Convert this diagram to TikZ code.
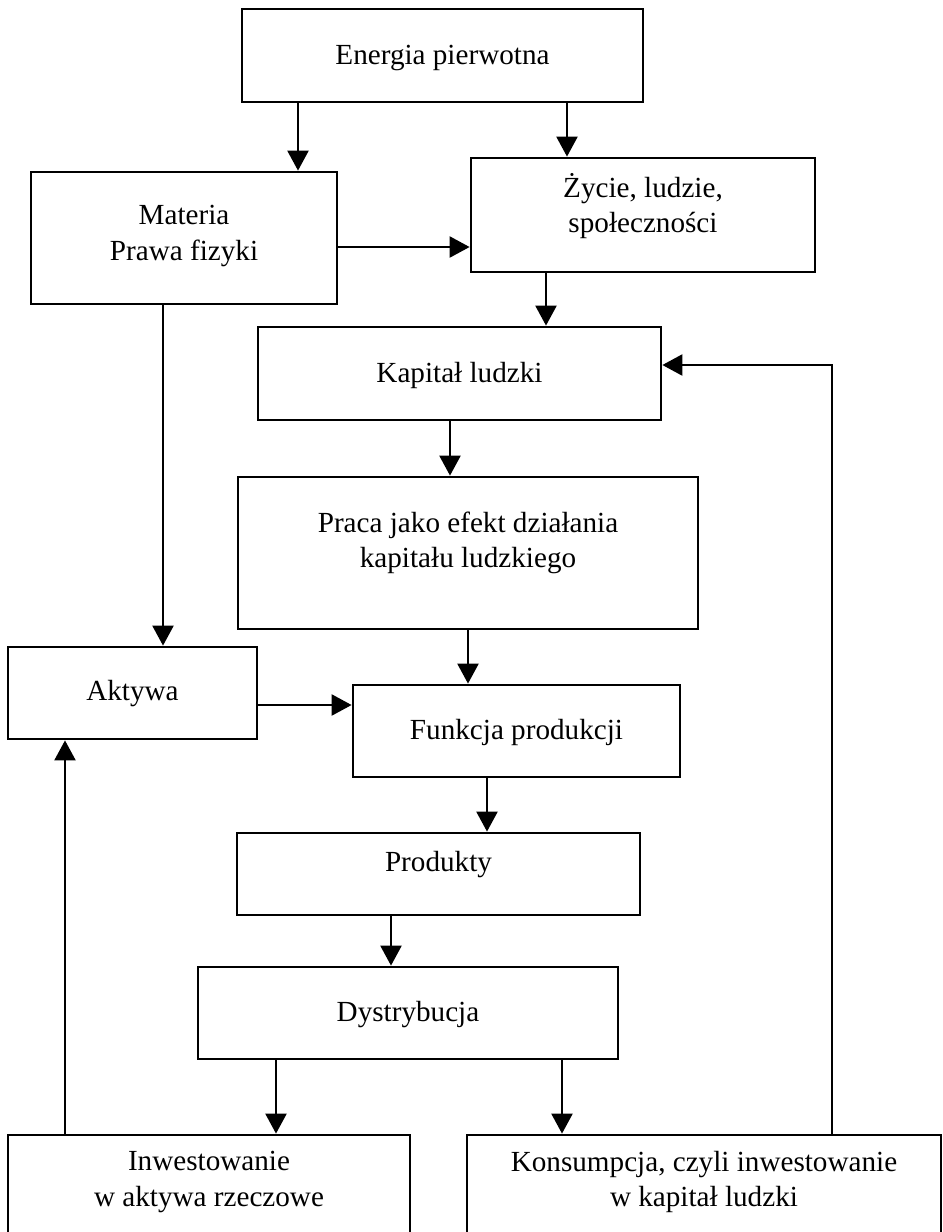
\documentclass[tikz,border=0pt]{standalone}
\usepackage{fontspec}
\setmainfont{Liberation Serif}
\usetikzlibrary{arrows.meta}

\tikzset{
    box/.style={draw, line width=1.6pt, inner sep=0pt},
    txt/.style={align=center, inner sep=0pt, font=\fontsize{16.6}{20}\selectfont},
    arr/.style={line width=1.3pt, -{Triangle[length=0.4cm,width=0.42cm]}},
}

\begin{document}
\begin{tikzpicture}[x=0.02cm, y=-0.02cm]
        \clip (0,0) rectangle (943,1232);
        % boxes
        \node[box, minimum width=8.02cm, minimum height=1.86cm] (energia) at (442.5,55.5) {};
        \node[box, minimum width=6.12cm, minimum height=2.64cm] (materia) at (184,238) {};
        \node[box, minimum width=6.88cm, minimum height=2.28cm] (zycie) at (643,215) {};
        \node[box, minimum width=8.06cm, minimum height=1.86cm] (kapital) at (459.5,373.5) {};
        \node[box, minimum width=9.2cm, minimum height=3.04cm] (praca) at (468,553) {};
        \node[box, minimum width=4.98cm, minimum height=1.84cm] (aktywa) at (132.5,693) {};
        \node[box, minimum width=6.54cm, minimum height=1.84cm] (funkcja) at (516.5,731) {};
        \node[box, minimum width=8.06cm, minimum height=1.64cm] (produkty) at (438.5,874) {};
        \node[box, minimum width=8.4cm, minimum height=1.84cm] (dystrybucja) at (408,1013) {};
        \node[box, minimum width=8.04cm, minimum height=2.1cm] (inwest) at (209,1187.5) {};
        \node[box, minimum width=9.48cm, minimum height=2.1cm] (konsum) at (704,1187.5) {};
        % texts
        \node[txt] (energia-t) at (442.5,58) {Energia pierwotna};
        \node[txt] (materia-t) at (184,236) {Materia\\Prawa fizyki};
        \node[txt] (zycie-t) at (643,206) {Życie, ludzie,\\społeczności};
        \node[txt] (kapital-t) at (459.5,375) {Kapitał ludzki};
        \node[txt] (praca-t) at (468,543) {Praca jako efekt działania\\kapitału ludzkiego};
        \node[txt] (aktywa-t) at (132.5,694) {Aktywa};
        \node[txt] (funkcja-t) at (516.5,732) {Funkcja produkcji};
        \node[txt] (produkty-t) at (438.5,865) {Produkty};
        \node[txt] (dystrybucja-t) at (408,1015) {Dystrybucja};
        \node[txt] (inwest-t) at (209,1182) {Inwestowanie\\w aktywa rzeczowe};
        \node[txt] (konsum-t) at (704,1182) {Konsumpcja, czyli inwestowanie\\w kapitał ludzki};
        % arrows
        \draw[arr] (298,0 |- energia.south) -- (298,0 |- materia.north);
        \draw[arr] (567,0 |- energia.south) -- (567,0 |- zycie.north);
        \draw[arr] (materia.east |- 0,247) -- (zycie.west |- 0,247);
        \draw[arr] (546,0 |- zycie.south) -- (546,0 |- kapital.north);
        \draw[arr] (163,0 |- materia.south) -- (163,0 |- aktywa.north);
        \draw[arr] (450,0 |- kapital.south) -- (450,0 |- praca.north);
        \draw[arr] (468,0 |- praca.south) -- (468,0 |- funkcja.north);
        \draw[arr] (aktywa.east |- 0,705) -- (funkcja.west |- 0,705);
        \draw[arr] (487,0 |- funkcja.south) -- (487,0 |- produkty.north);
        \draw[arr] (391,0 |- produkty.south) -- (391,0 |- dystrybucja.north);
        \draw[arr] (276,0 |- dystrybucja.south) -- (276,0 |- inwest.north);
        \draw[arr] (562,0 |- dystrybucja.south) -- (562,0 |- konsum.north);
        \draw[arr] (65,0 |- inwest.north) -- (65,0 |- aktywa.south);
        \draw[arr] (832,0 |- konsum.north) -- (832,365) -- (kapital.east |- 0,365);
\end{tikzpicture}
\end{document}
